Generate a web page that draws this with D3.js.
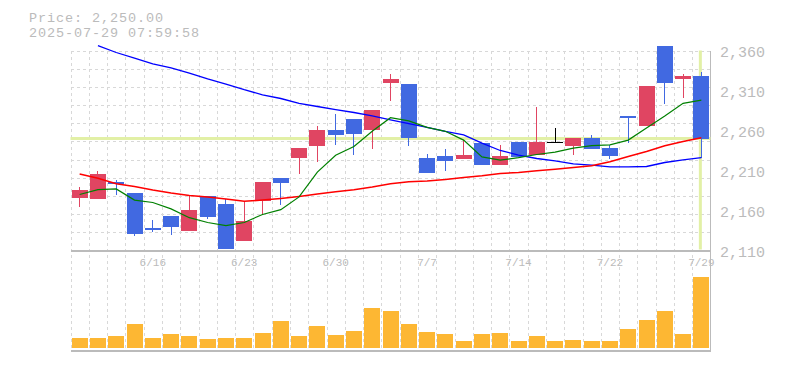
<!DOCTYPE html>
<html>
<head>
<meta charset="utf-8">
<script src="https://cdn.jsdelivr.net/npm/d3@7"></script>
<style>
  html, body { margin: 0; padding: 0; background: #fff; }
  svg { display: block; }
  text { font-family: "Liberation Mono", "DejaVu Sans Mono", monospace; fill: #bbbbbb; }
</style>
</head>
<body>
<svg id="chart" width="785" height="370"></svg>
<script>
// ---- data ----
const dates = ["6/10","6/11","6/12","6/13","6/16","6/17","6/18","6/19","6/20",
  "6/23","6/24","6/25","6/26","6/27","6/30","7/1","7/2","7/3","7/4",
  "7/7","7/8","7/9","7/10","7/11","7/14","7/15","7/16","7/17","7/18",
  "7/22","7/23","7/24","7/25","7/28","7/29"];
const opens  = [2176,2175,2196,2182,2138,2153,2135,2178,2168,2122,2172,2201,2226,2241,2261,2275,2261,2320,2318,2226,2228,2224,2245,2217,2246,2230,2246,2241,2251,2238,2278,2266,2366,2325,2328];
const highs  = [2190,2209,2198,2182,2148,2153,2179,2178,2175,2172,2196,2201,2238,2266,2281,2275,2286,2331,2318,2231,2237,2248,2245,2242,2246,2290,2263,2251,2254,2242,2278,2316,2366,2331,2333];
const lows   = [2165,2174,2180,2128,2133,2130,2135,2150,2112,2122,2154,2167,2206,2221,2242,2230,2237,2297,2241,2207,2210,2224,2217,2217,2227,2230,2246,2230,2237,2224,2245,2266,2293,2301,2226];
const closes = [2186,2206,2193,2131,2136,2140,2161,2152,2112,2147,2196,2195,2238,2261,2254,2256,2286,2325,2251,2207,2222,2230,2217,2228,2227,2246,2246,2251,2237,2228,2276,2316,2320,2328,2250];
const volumes = [100,100,120,240,100,140,120,90,100,100,150,270,120,220,130,170,400,370,240,160,140,70,140,150,70,120,70,80,70,70,190,280,370,140,710];
const ma5  = [2180,2186,2187,2173,2170,2162,2151,2145,2141,2145,2155,2161,2177,2208,2229,2240,2259,2276,2272,2264,2259,2248,2227,2223,2226,2230,2233,2238,2241,2242,2248,2263,2278,2294,2298];
const ma25 = [2205.6,2200.3,2193.4,2190,2185.5,2181.8,2178.8,2176.8,2174.3,2171.5,2173,2175,2177.5,2180.5,2183.4,2185.9,2189.3,2193.4,2196,2197,2198.8,2201.3,2203.5,2206.3,2207.5,2209.6,2211.5,2213.8,2215.9,2220.9,2227.5,2233.8,2240.9,2246.3,2251];
const ma75 = [null,2366,2357.5,2350.5,2343.4,2338.4,2331.8,2324.6,2318,2311,2304.6,2300,2294,2290,2286,2282.5,2278.4,2273.4,2268.5,2264,2258.8,2254.6,2244.3,2235,2229.3,2225,2222,2218.4,2216.8,2214.6,2214.6,2215,2220,2223.4,2226];
const yTicks = [2110,2160,2210,2260,2310,2360];
const xLabels = ["6/16","6/23","6/30","7/7","7/14","7/22","7/29"];
const currentPrice = 2250;
const titleLines = ["Price: 2,250.00", "2025-07-29 07:59:58"];

// ---- layout ----
const L = 70.5, R = 710.5, PT = 50.5, PB = 250.5, VT = 250.5, VB = 350.5, VBase = 348;
const upColor = "#e04562", downColor = "#4169e1", dojiColor = "#000000";
const volColor = "#fdb733", gridColor = "#d8d8d8", axisColor = "#bbbbbb", hiColor = "#e2f0a6";

const svg = d3.select("#chart");
const idx = d3.range(dates.length);

const x = d3.scaleBand().domain(dates).range([L, R]).paddingInner(0.125).paddingOuter(0.0625);
const step = x.step();
const cx = d => x(d) + x.bandwidth() / 2;
const y = d3.scaleLinear().domain([2110, 2360]).range([PB, PT]);
const yv = d3.scaleLinear().domain([0, d3.max(volumes)]).range([VBase, 277]);

// ---- grid ----
const grid = svg.append("g").attr("stroke", gridColor).attr("stroke-width", 1)
  .attr("stroke-dasharray", "3,3").attr("shape-rendering", "crispEdges");
const bounds = dates.map(d => Math.round(cx(d) - step / 2) + 0.5);
grid.selectAll("line.v").data(bounds).join("line")
  .attr("x1", d => d).attr("x2", d => d).attr("y1", PT).attr("y2", VB);
const hVals = d3.range(11).map(k => 2110 + (k + 1) * 250 / 11);
grid.selectAll("line.h").data(hVals).join("line")
  .attr("x1", L).attr("x2", R).attr("y1", d => Math.round(y(d)) + 0.5).attr("y2", d => Math.round(y(d)) + 0.5);

// ---- axes frame ----
const frame = svg.append("g").attr("stroke", axisColor).attr("shape-rendering", "crispEdges");
frame.append("line").attr("x1", L).attr("x2", R).attr("y1", PB).attr("y2", PB).attr("stroke-width", 2);
frame.append("line").attr("x1", L).attr("x2", R).attr("y1", VB).attr("y2", VB).attr("stroke-width", 2);
frame.append("line").attr("x1", R).attr("x2", R).attr("y1", PT).attr("y2", VB).attr("stroke-width", 1);

// ---- highlight lines ----
svg.append("line").attr("x1", L).attr("x2", R).attr("y1", y(currentPrice)).attr("y2", y(currentPrice))
  .attr("stroke", hiColor).attr("stroke-width", 3);
svg.append("line").attr("x1", cx(dates[dates.length - 1]) - 1).attr("x2", cx(dates[dates.length - 1]) - 1)
  .attr("y1", PT).attr("y2", PB - 1).attr("stroke", hiColor).attr("stroke-width", 3);

// ---- volume ----
svg.append("g").selectAll("rect").data(idx).join("rect")
  .attr("x", i => x(dates[i])).attr("width", x.bandwidth())
  .attr("y", i => yv(volumes[i])).attr("height", i => VBase - yv(volumes[i]))
  .attr("fill", volColor).attr("shape-rendering", "crispEdges");

// ---- candles ----
const colorOf = i => closes[i] > opens[i] ? upColor : (closes[i] < opens[i] ? downColor : dojiColor);
const candles = svg.append("g").attr("shape-rendering", "crispEdges");
candles.selectAll("line").data(idx).join("line")
  .attr("x1", i => Math.floor(cx(dates[i])) + 0.5).attr("x2", i => Math.floor(cx(dates[i])) + 0.5)
  .attr("y1", i => y(highs[i])).attr("y2", i => y(lows[i]))
  .attr("stroke", colorOf).attr("stroke-width", 1);
candles.selectAll("rect").data(idx).join("rect")
  .attr("x", i => x(dates[i])).attr("width", x.bandwidth())
  .attr("y", i => y(Math.max(opens[i], closes[i])))
  .attr("height", i => Math.max(1.5, Math.abs(y(opens[i]) - y(closes[i]))))
  .attr("fill", colorOf);

// ---- moving averages ----
const maLine = arr => d3.line().defined(i => arr[i] != null).x(i => cx(dates[i])).y(i => y(arr[i]))(idx);
svg.append("path").attr("d", maLine(ma75)).attr("fill", "none").attr("stroke", "#0000ff").attr("stroke-width", 1.3);
svg.append("path").attr("d", maLine(ma25)).attr("fill", "none").attr("stroke", "#ff0000").attr("stroke-width", 1.5);
svg.append("path").attr("d", maLine(ma5)).attr("fill", "none").attr("stroke", "#008000").attr("stroke-width", 1.2);

// ---- labels ----
svg.append("g").selectAll("text").data(yTicks).join("text")
  .attr("x", 720).attr("y", d => y(d) + 6.8)
  .attr("font-size", 15).text(d3.format(","));
svg.append("g").selectAll("text").data(xLabels).join("text")
  .attr("x", d => cx(d)).attr("y", 266.3).attr("text-anchor", "middle")
  .attr("font-size", 11).text(d => d);
svg.append("g").selectAll("text").data(titleLines).join("text")
  .attr("x", 29).attr("y", (d, i) => 21.8 + i * 15.6)
  .attr("font-size", 13.5).attr("letter-spacing", "0.9px").text(d => d);
</script>
</body>
</html>
